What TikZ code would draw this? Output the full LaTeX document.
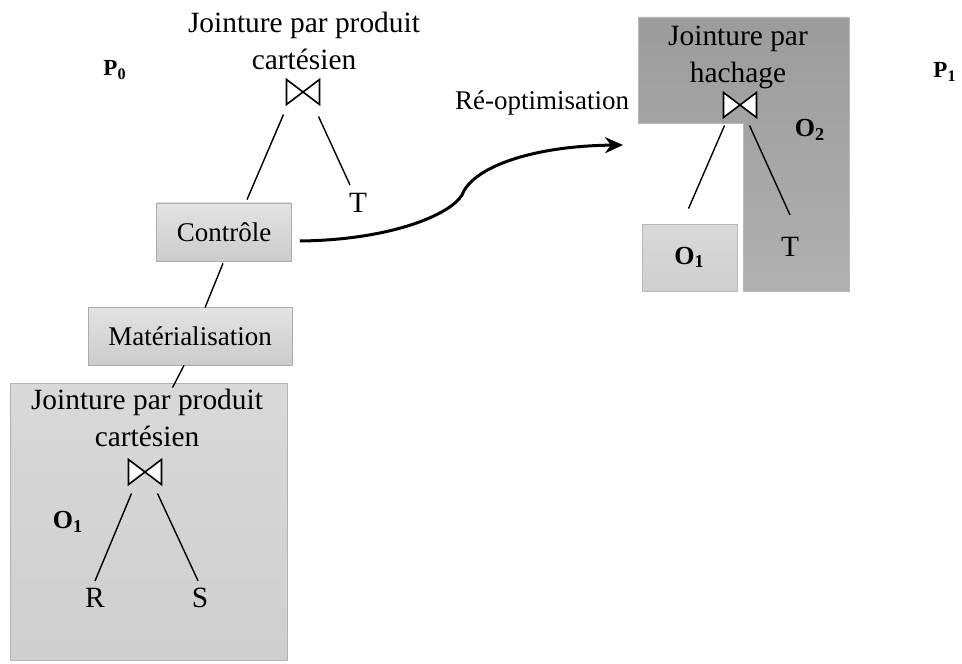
\documentclass[tikz,border=0pt]{standalone}
\usepackage{fontspec}
\setmainfont{Liberation Serif}
\usetikzlibrary{calc,arrows.meta}
\tikzset{
	bigtxt/.style={font=\fontsize{14.7}{18.5}\selectfont, align=center, inner sep=1pt},
	smalltxt/.style={font=\fontsize{13.5}{16}\selectfont, inner sep=1pt},
	oplabel/.style={font=\fontsize{13}{16}\selectfont\bfseries, inner sep=1pt},
	plabel/.style={font=\fontsize{11.5}{14}\selectfont\bfseries, inner sep=1pt},
	opbox/.style={draw=gray!65, top color=gray!22, bottom color=gray!40, minimum height=29pt, font=\fontsize{13.5}{16}\selectfont},
	joinsym/.style={minimum width=16.5pt, minimum height=12.5pt, inner sep=0pt, outer sep=0pt},
	branch/.style={draw, line width=0.7pt},
	reopt/.style={draw, line width=1.5pt, -{Stealth[length=9pt,width=8pt]}},
}
\newcommand{\bowtiesym}[1]{\draw[line width=0.8pt, fill=white] (#1.north west) -- (#1.south west) -- (#1.north east) -- (#1.south east) -- cycle;}

\begin{document}
\begin{tikzpicture}[x=0.5pt, y=-0.5pt]
	\useasboundingbox (0,0) rectangle (962,663);

	% plan P0
	\node[plabel] (p0) at (115,70) {P\textsubscript{0}};
	\node[bigtxt] (jl0) at (304,41) {Jointure par produit\\cartésien};
	\node[joinsym] (j0) at (303,92) {};
	\bowtiesym{j0}
	\node[opbox, minimum width=67.5pt] (ctrl) at (224,232) {Contrôle};
	\node[bigtxt] (t0) at (358,203) {T};
	\node[opbox, minimum width=102pt] (mat) at (190,336) {Matérialisation};

	\node[draw=gray!60, top color=gray!30, bottom color=gray!38, minimum width=138.5pt, minimum height=138.5pt, inner sep=0pt] (o1box) at (148.5,521.5) {};
	\node[bigtxt] (jl1) at (147,418) {Jointure par produit\\cartésien};
	\node[joinsym] (j1) at (145,472) {};
	\bowtiesym{j1}
	\node[oplabel] (o1) at (68,522) {O\textsubscript{1}};
	\node[bigtxt] (r) at (95,598) {R};
	\node[bigtxt] (s) at (200,598) {S};

	\path[branch] ($(j0.south west)+(-3,10)$) -- ($(ctrl.north)+(23,-3)$);
	\path[branch] ($(j0.south east)+(-1,12)$) -- ($(t0.north)+(-8,-6)$);
	\path[branch] ($(ctrl.south)+(-1,2)$) -- ($(mat.north)+(15,1)$);
	\path[branch] ($(mat.south)+(-6,0)$) -- ($(o1box.north)+(24,5)$);
	\path[branch] ($(j1.south west)+(3,9)$) -- ($(r.north)+(0,-5)$);
	\path[branch] ($(j1.south east)+(-4,9)$) -- ($(s.north)+(-2,-5)$);

	% plan P1
	\shade[top color=gray!78, bottom color=gray!62, draw=gray!55] (638,17) -- (849,17) -- (849,291) -- (743,291) -- (743,123) -- (638,123) -- cycle;
	\node[bigtxt] (jl2) at (738,57) {Jointure par\\hachage};
	\node[joinsym] (j2) at (740,105) {};
	\bowtiesym{j2}
	\node[oplabel] (o2) at (810,130) {O\textsubscript{2}};
	\node[draw=gray!55, top color=gray!30, bottom color=gray!38, minimum width=47.5pt, minimum height=33.5pt, font=\fontsize{13}{16}\selectfont\bfseries] (o1b) at (689.5,257.5) {O\textsubscript{1}};
	\node[bigtxt] (t2) at (790,247) {T};
	\node[plabel] (p1) at (945,72) {P\textsubscript{1}};

	\path[branch] ($(j2.south west)+(1,8)$) -- ($(o1b.north)+(-1,-15)$);
	\path[branch] ($(j2.south east)+(-7,8)$) -- ($(t2.north)+(0,-20)$);

	% re-optimisation
	\node[smalltxt] (reoptlbl) at (542,103) {Ré-optimisation};
	\draw[reopt] (ctrl.east) ++(8,9) .. controls (390,240) and (450,215) .. (462,195) .. controls (472,168) and (530,146) .. (623,145);
\end{tikzpicture}
\end{document}
